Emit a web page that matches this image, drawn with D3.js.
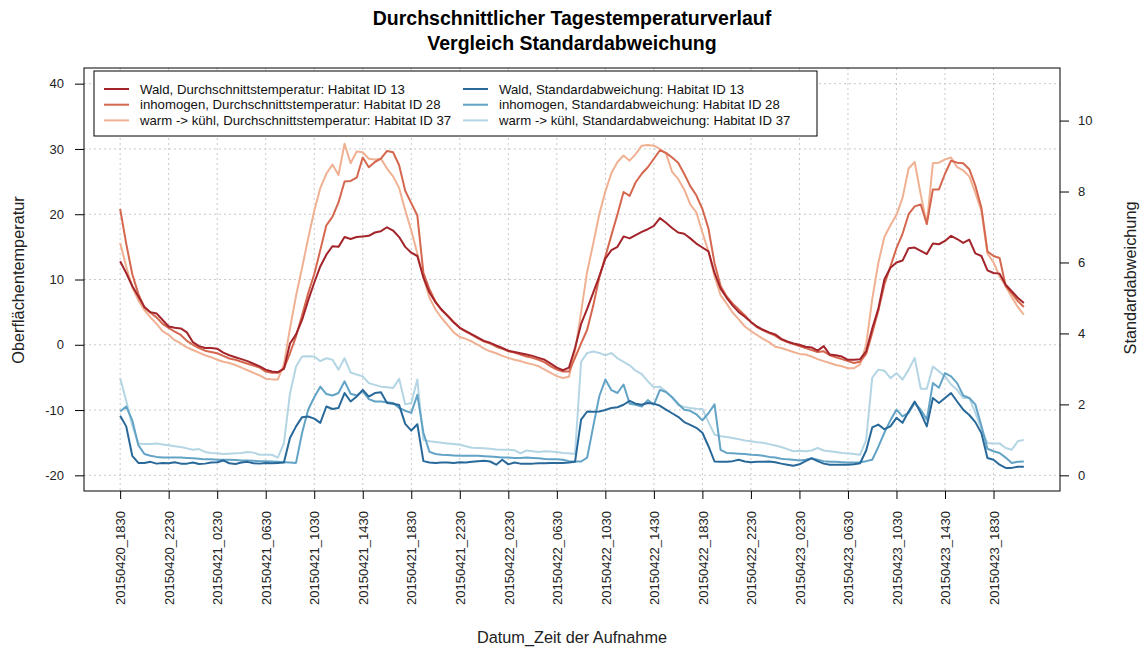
<!DOCTYPE html>
<html>
<head>
<meta charset="utf-8">
<script src="https://cdn.jsdelivr.net/npm/d3@7"></script>
<style>
  body { margin: 0; background: #fff; }
  text { font-family: "Liberation Sans", Arial, sans-serif; }
</style>
</head>
<body>
<svg id="chart" width="1143" height="652"></svg>
<script>
// Half-hourly samples, 20150420 18:30 to 20150423 21:00
const tickLabels = [
  "20150420_1830", "20150420_2230", "20150421_0230", "20150421_0630", "20150421_1030",
  "20150421_1430", "20150421_1830", "20150421_2230", "20150422_0230", "20150422_0630",
  "20150422_1030", "20150422_1430", "20150422_1830", "20150422_2230", "20150423_0230",
  "20150423_0630", "20150423_1030", "20150423_1430", "20150423_1830"
];
const tempTicks = [-20, -10, 0, 10, 20, 30, 40];
const stdTicks = [0, 2, 4, 6, 8, 10];

// Mean surface temperature per habitat
const temp13 = [
  12.8, 11.0, 9.0, 7.4, 5.8, 5.0, 4.8, 3.8, 2.8, 2.6,
  2.5, 1.9, 0.4, -0.2, -0.5, -0.5, -0.6, -1.2, -1.6, -1.9,
  -2.2, -2.5, -2.9, -3.3, -3.8, -4.1, -4.2, -3.7, 0.2, 1.6,
  3.8, 6.8, 9.5, 12.0, 13.8, 15.1, 15.0, 16.5, 16.2, 16.5,
  16.6, 16.7, 17.2, 17.4, 18.0, 17.5, 16.5, 15.0, 14.1, 13.6,
  10.3, 8.0, 6.5, 5.4, 4.4, 3.4, 2.6, 2.1, 1.6, 1.1,
  0.6, 0.3, -0.1, -0.5, -0.9, -1.1, -1.3, -1.5, -1.7, -2.0,
  -2.3, -2.9, -3.5, -3.9, -3.5, -0.5, 3.2, 5.5, 8.0, 10.5,
  13.2, 14.5, 15.0, 16.6, 16.3, 16.8, 17.3, 17.7, 18.2, 19.4,
  18.7, 17.9, 17.2, 17.0, 16.3, 15.5, 14.9, 14.3, 11.0, 8.6,
  7.2, 6.0, 5.0, 4.3, 3.5, 2.8, 2.3, 1.9, 1.6, 0.9,
  0.5, 0.2, 0.0, -0.3, -0.4, -0.9, -0.2, -1.5, -1.6, -1.8,
  -2.3, -2.3, -2.2, -1.0, 2.5, 5.5, 10.0, 11.8, 12.6, 12.9,
  14.8, 14.9, 14.4, 13.9, 15.5, 15.4, 15.9, 16.7, 16.2, 15.6,
  16.1, 14.0, 13.6, 11.4, 11.0, 10.9, 9.2, 8.2, 7.2, 6.4
];
const temp28 = [
  20.8, 15.5, 10.8, 7.8, 5.7, 4.9, 4.2, 3.2, 2.6, 2.0,
  1.5, 0.6, 0.0, -0.5, -0.9, -1.1, -1.3, -1.7, -2.1, -2.3,
  -2.6, -2.9, -3.2, -3.5, -4.1, -4.3, -4.3, -3.6, -1.3, 1.3,
  4.5, 7.9, 10.8, 14.5, 18.3, 19.6, 21.8, 25.0, 25.1, 25.6,
  28.7, 27.2, 28.0, 28.5, 29.7, 29.5, 27.5, 23.6, 21.7, 19.8,
  11.0, 8.5, 6.6, 5.3, 4.5, 3.5, 2.6, 2.0, 1.5, 1.0,
  0.5, 0.2, -0.3, -0.6, -1.0, -1.2, -1.5, -1.8, -2.0, -2.3,
  -2.7, -3.3, -3.8, -4.1, -4.1, -2.0, 0.2, 2.3, 6.0, 10.3,
  13.5, 16.8, 20.0, 23.4, 22.8, 24.9, 26.2, 27.2, 28.5, 29.8,
  29.4, 28.7, 27.9, 26.2, 24.3, 22.9, 20.8, 17.8, 12.5, 9.0,
  7.4, 6.3, 5.4, 4.5, 3.5, 2.7, 2.2, 1.8, 1.4, 0.8,
  0.4, 0.1, -0.2, -0.5, -0.8, -1.1, -1.0, -1.6, -1.9, -2.2,
  -2.5, -2.8, -2.6, -1.4, 1.8, 5.2, 9.2, 12.0, 14.8, 17.0,
  20.0, 21.2, 21.5, 18.5, 23.8, 23.8, 26.2, 28.2, 27.9, 27.8,
  26.9, 24.4, 21.0, 14.3, 13.6, 13.3, 9.0, 7.9, 6.7, 5.8
];
const temp37 = [
  15.6, 12.0, 8.8, 6.8, 5.3, 4.2, 3.2, 2.1, 1.5, 0.7,
  0.2, -0.4, -0.8, -1.2, -1.6, -1.9, -2.3, -2.6, -2.8, -3.1,
  -3.5, -3.9, -4.3, -4.7, -5.2, -5.3, -5.3, -3.0, 2.5, 7.5,
  11.8, 16.3, 20.5, 24.0, 26.2, 27.6, 26.0, 30.8, 27.8, 29.6,
  29.5, 28.5, 28.4, 28.5, 27.0, 25.8, 24.0, 20.6, 17.5, 14.0,
  10.3, 7.2, 5.4, 4.1, 3.0, 1.9, 1.2, 0.9, 0.5, 0.0,
  -0.6, -1.0, -1.3, -1.7, -2.0, -2.3, -2.5, -2.8, -3.0, -3.3,
  -3.8, -4.3, -4.8, -5.1, -4.9, -1.0, 5.0, 11.2, 15.5, 20.0,
  23.5, 26.3, 28.0, 29.0, 28.2, 29.2, 30.5, 30.6, 30.5, 30.0,
  29.3, 26.5, 25.4, 23.8, 21.5, 20.3, 17.2, 14.3, 10.5, 7.6,
  6.3, 4.9, 3.9, 2.8, 2.1, 1.5, 0.9, 0.4, -0.3, -0.5,
  -0.8, -1.1, -1.4, -1.5, -1.8, -2.2, -2.5, -2.8, -3.1, -3.3,
  -3.6, -3.6, -3.0, 0.0, 7.0, 12.5, 16.5, 18.3, 19.9, 22.5,
  27.0, 28.0, 23.0, 18.5, 27.8, 27.9, 28.4, 28.7, 27.2, 26.7,
  25.8, 23.3, 20.5, 14.0, 12.6, 10.5, 9.0, 7.3, 5.8, 4.6
];

// Standard deviation per habitat
const std13 = [
  1.68, 1.38, 0.55, 0.35, 0.35, 0.38, 0.33, 0.35, 0.34, 0.37,
  0.33, 0.33, 0.36, 0.32, 0.33, 0.36, 0.37, 0.42, 0.34, 0.32,
  0.36, 0.38, 0.34, 0.33, 0.35, 0.34, 0.35, 0.36, 1.05, 1.38,
  1.64, 1.66, 1.60, 1.48, 1.94, 1.87, 1.90, 2.32, 2.08, 2.22,
  2.41, 2.22, 2.32, 2.34, 2.04, 2.02, 1.98, 1.45, 1.26, 1.44,
  0.40, 0.36, 0.35, 0.36, 0.36, 0.35, 0.37, 0.36, 0.38, 0.40,
  0.41, 0.39, 0.30, 0.44, 0.31, 0.36, 0.33, 0.33, 0.33, 0.34,
  0.34, 0.35, 0.35, 0.35, 0.36, 0.38, 1.57, 1.80, 1.79, 1.80,
  1.84, 1.90, 1.92, 1.99, 2.10, 2.02, 1.99, 2.04, 2.02, 1.96,
  1.85, 1.75, 1.65, 1.50, 1.42, 1.34, 1.20, 0.82, 0.39, 0.38,
  0.38, 0.40, 0.44, 0.39, 0.37, 0.38, 0.38, 0.39, 0.37, 0.33,
  0.30, 0.27, 0.31, 0.40, 0.48, 0.40, 0.33, 0.30, 0.30, 0.30,
  0.30, 0.31, 0.34, 0.70, 1.35, 1.43, 1.30, 1.38, 1.62, 1.48,
  1.80, 2.08, 1.76, 1.38, 2.18, 2.04, 2.18, 2.32, 2.08, 1.85,
  1.70, 1.50, 1.19, 0.49, 0.44, 0.30, 0.21, 0.21, 0.24, 0.24
];
const std28 = [
  1.80, 1.94, 1.55, 0.85, 0.60, 0.55, 0.52, 0.50, 0.50, 0.50,
  0.50, 0.49, 0.48, 0.47, 0.45, 0.45, 0.44, 0.44, 0.44, 0.43,
  0.42, 0.42, 0.41, 0.40, 0.40, 0.39, 0.38, 0.37, 0.36, 0.35,
  1.20, 1.85, 2.20, 2.50, 2.29, 2.25, 2.32, 2.65, 2.30, 2.25,
  2.37, 2.15, 2.08, 2.08, 2.06, 2.04, 1.90, 1.82, 1.76, 2.27,
  1.20, 0.66, 0.60, 0.58, 0.57, 0.56, 0.55, 0.55, 0.55, 0.55,
  0.54, 0.53, 0.52, 0.50, 0.50, 0.49, 0.49, 0.50, 0.49, 0.48,
  0.46, 0.45, 0.45, 0.44, 0.40, 0.39, 0.39, 0.50, 1.38, 2.23,
  2.70, 2.40, 2.32, 2.56, 2.02, 1.99, 1.94, 2.12, 1.99, 2.41,
  2.35, 2.20, 2.02, 1.85, 1.82, 1.72, 1.55, 1.75, 2.00, 0.72,
  0.63, 0.62, 0.61, 0.60, 0.58, 0.57, 0.55, 0.52, 0.50, 0.47,
  0.45, 0.44, 0.42, 0.44, 0.48, 0.44, 0.40, 0.38, 0.38, 0.37,
  0.36, 0.36, 0.37, 0.40, 0.44, 0.80, 1.20, 1.55, 1.85, 1.66,
  1.76, 2.04, 1.85, 1.57, 2.60, 2.47, 2.88, 2.79, 2.60, 2.25,
  2.18, 2.00, 1.40, 0.75, 0.68, 0.63, 0.50, 0.35, 0.38, 0.39
];
const std37 = [
  2.74, 2.10, 1.40, 0.90, 0.88, 0.88, 0.90, 0.87, 0.85, 0.82,
  0.80, 0.76, 0.72, 0.74, 0.66, 0.63, 0.62, 0.60, 0.61, 0.62,
  0.63, 0.66, 0.64, 0.58, 0.58, 0.58, 0.50, 0.90, 2.30, 3.07,
  3.35, 3.36, 3.35, 3.22, 3.30, 3.26, 2.98, 3.30, 2.90, 2.84,
  2.79, 2.60, 2.55, 2.50, 2.48, 2.46, 2.72, 2.00, 2.04, 2.70,
  1.00, 0.96, 0.94, 0.92, 0.90, 0.88, 0.86, 0.82, 0.78, 0.77,
  0.76, 0.75, 0.73, 0.72, 0.72, 0.71, 0.62, 0.70, 0.68, 0.66,
  0.68, 0.67, 0.66, 0.63, 0.62, 0.60, 3.20, 3.45, 3.49, 3.45,
  3.38, 3.45, 3.30, 3.20, 3.10, 2.95, 2.85, 2.65, 2.48, 2.50,
  2.36, 2.20, 1.98, 1.93, 1.90, 1.88, 1.87, 1.50, 1.15, 1.10,
  1.08, 1.05, 1.02, 0.98, 0.96, 0.93, 0.92, 0.88, 0.84, 0.80,
  0.74, 0.68, 0.69, 0.68, 0.70, 0.77, 0.70, 0.68, 0.66, 0.63,
  0.62, 0.60, 0.58, 1.00, 2.75, 2.98, 2.95, 2.74, 2.88, 2.70,
  2.98, 3.31, 2.44, 2.44, 3.07, 2.93, 2.79, 2.56, 2.41, 2.18,
  2.18, 1.76, 1.30, 0.91, 0.90, 0.90, 0.77, 0.72, 0.96, 1.00
];

const seriesNames = [
  "Wald, Durchschnittstemperatur: Habitat ID 13",
  "inhomogen, Durchschnittstemperatur: Habitat ID 28",
  "warm -> kühl, Durchschnittstemperatur: Habitat ID 37",
  "Wald, Standardabweichung: Habitat ID 13",
  "inhomogen, Standardabweichung: Habitat ID 28",
  "warm -> kühl, Standardabweichung: Habitat ID 37"
];
const seriesColors = ["#a3252b", "#d5674f", "#f0b193", "#29699a", "#62a3c6", "#b4d5e4"];

// ---- layout ----
const svg = d3.select("#chart");
const plot = { left: 84, right: 1060, top: 68, bottom: 491 };
const pad = (lo, hi) => { const e = (hi - lo) * 0.04; return [lo - e, hi + e]; };

const n = temp13.length;
const x = d3.scaleLinear().domain(pad(1, n)).range([plot.left, plot.right]);
const yT = d3.scaleLinear().domain(pad(-20, 40)).range([plot.bottom, plot.top]);
const yS = d3.scaleLinear().domain(pad(0, 11.04)).range([plot.bottom, plot.top]);
const tickIdx = tickLabels.map((_, k) => 1 + 8 * k);

// grid
const grid = svg.append("g").attr("stroke", "#c9c9c9").attr("stroke-width", 1)
  .attr("stroke-dasharray", "2,3");
tickIdx.forEach(i => grid.append("line")
  .attr("x1", x(i)).attr("x2", x(i)).attr("y1", plot.top).attr("y2", plot.bottom));
tempTicks.forEach(v => grid.append("line")
  .attr("x1", plot.left).attr("x2", plot.right).attr("y1", yT(v)).attr("y2", yT(v)));

// lines
const lineT = d3.line().x((d, i) => x(i + 1)).y(d => yT(d));
const lineS = d3.line().x((d, i) => x(i + 1)).y(d => yS(d));
const temps = [temp13, temp28, temp37];
const stds = [std13, std28, std37];
const lines = svg.append("g").attr("fill", "none").attr("stroke-width", 2)
  .attr("stroke-linejoin", "round");
[2, 1, 0].forEach(k => lines.append("path").attr("d", lineT(temps[k])).attr("stroke", seriesColors[k]));
[2, 1, 0].forEach(k => lines.append("path").attr("d", lineS(stds[k])).attr("stroke", seriesColors[k + 3]));

// axes
const plainNum = d => String(d);
const styleAxis = g => {
  g.select(".domain").remove();
  g.selectAll(".tick line").attr("stroke", "#000");
  g.selectAll(".tick text").attr("fill", "#222").style("font-size", "13px")
    .style("font-family", "'Liberation Sans', Arial, sans-serif");
};
svg.append("g").attr("transform", `translate(${plot.left},0)`)
  .call(d3.axisLeft(yT).tickValues(tempTicks).tickFormat(plainNum).tickSize(9).tickPadding(11))
  .call(styleAxis);
svg.append("g").attr("transform", `translate(${plot.right},0)`)
  .call(d3.axisRight(yS).tickValues(stdTicks).tickFormat(plainNum).tickSize(9).tickPadding(9))
  .call(styleAxis);
const xAxis = svg.append("g").attr("transform", `translate(0,${plot.bottom})`)
  .call(d3.axisBottom(x).tickValues(tickIdx).tickSize(8)
    .tickFormat((d, k) => tickLabels[k]))
  .call(styleAxis);
xAxis.selectAll(".tick text")
  .attr("transform", "rotate(-90)")
  .attr("text-anchor", "end")
  .attr("x", -20).attr("y", 0).attr("dy", "0.36em");

// frame
svg.append("rect").attr("x", plot.left).attr("y", plot.top)
  .attr("width", plot.right - plot.left).attr("height", plot.bottom - plot.top)
  .attr("fill", "none").attr("stroke", "#000").attr("stroke-width", 1);

// titles
const title = svg.append("g").attr("text-anchor", "middle")
  .style("font-weight", "bold").style("font-size", "19.5px").attr("fill", "#000");
title.append("text").attr("x", 572).attr("y", 25).text("Durchschnittlicher Tagestemperaturverlauf");
title.append("text").attr("x", 572).attr("y", 50).text("Vergleich Standardabweichung");

svg.append("text").attr("transform", "translate(24,280) rotate(-90)")
  .attr("text-anchor", "middle").style("font-size", "16.3px").attr("fill", "#222")
  .text("Oberflächentemperatur");
svg.append("text").attr("transform", "translate(1136,278) rotate(-90)")
  .attr("text-anchor", "middle").style("font-size", "16.3px").attr("fill", "#222")
  .text("Standardabweichung");
svg.append("text").attr("x", 572).attr("y", 643)
  .attr("text-anchor", "middle").style("font-size", "16.3px").attr("fill", "#222")
  .text("Datum_Zeit der Aufnahme");

// legend
const legend = svg.append("g");
legend.append("rect").attr("x", 94).attr("y", 71).attr("width", 723).attr("height", 65)
  .attr("fill", "#fff").attr("stroke", "#000").attr("stroke-width", 1);
seriesNames.forEach((name, k) => {
  const col = Math.floor(k / 3), row = k % 3;
  const lx = col === 0 ? 104 : 463;
  const ly = 89 + row * 15.7;
  legend.append("line").attr("x1", lx).attr("x2", lx + 25).attr("y1", ly).attr("y2", ly)
    .attr("stroke", seriesColors[k]).attr("stroke-width", 2);
  legend.append("text").attr("x", lx + 36).attr("y", ly).attr("dy", "0.35em")
    .style("font-size", "13.2px").attr("fill", "#111").text(name);
});
</script>
</body>
</html>
